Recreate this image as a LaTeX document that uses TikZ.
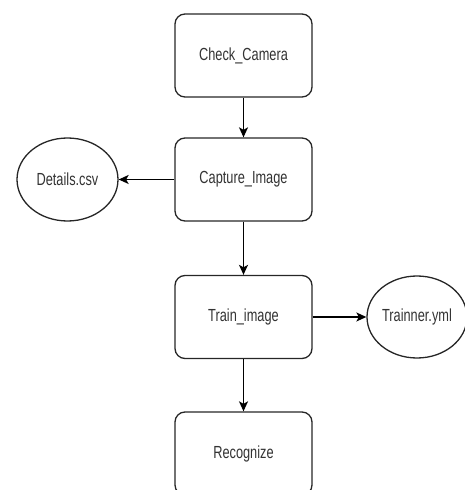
\documentclass[tikz,border=0pt]{standalone}
\usepackage{fontspec}
\setmainfont{Liberation Sans}
\usetikzlibrary{shapes.geometric,arrows.meta}
\newcommand{\lbl}[1]{\scalebox{0.73}[1]{#1}}
\begin{document}
\begin{tikzpicture}[x=1pt,y=1pt,
  box/.style={draw=black!85, line width=1.3pt, rounded corners=10pt, minimum width=137pt, minimum height=83pt, inner sep=0pt, font=\fontsize{17.5}{20}\selectfont, text=black!80},
  oval/.style={draw=black!85, line width=1.3pt, ellipse, minimum width=101pt, minimum height=83pt, inner sep=0pt, font=\fontsize{17.5}{20}\selectfont, text=black!80},
  conn/.style={draw=black, line width=1.3pt, -{Stealth[length=10pt,width=9pt,inset=2.5pt]}}]
\useasboundingbox (0,0) rectangle (465,490);
\begin{scope}
\clip (0,0) rectangle (465,490);
\node[box] (check) at (243.5,434.5) {\lbl{Check\_Camera}};
\node[box] (capture) at (243.5,310.5) {\lbl{Capture\_Image}};
\node[box] (train) at (243.5,173) {\lbl{Train\_image}};
\node[box] (recog) at (243.5,36.5) {\lbl{Recognize}};
\node[oval] (details) at (67.5,310.5) {\lbl{Details.csv}};
\node[oval, minimum width=100pt, minimum height=82pt] (trainer) at (417,173) {\lbl{Trainner.yml}};
\draw[conn] (check) -- (capture);
\draw[conn] (capture) -- (details);
\draw[conn] (capture) -- (train);
\draw[conn] (train) -- (trainer);
\draw[conn] (train) -- (recog);
\end{scope}
\end{tikzpicture}
\end{document}
